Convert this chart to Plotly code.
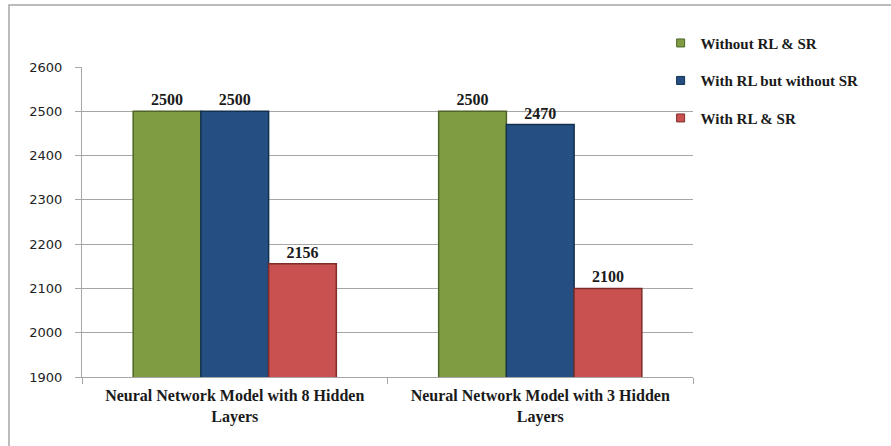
import plotly.graph_objects as go

categories = ["Neural Network Model with 8 Hidden<br>Layers",
              "Neural Network Model with 3 Hidden<br>Layers"]
series_names = ["Without RL & SR", "With RL but without SR", "With RL & SR"]
without_rl_sr = [2500, 2500]
with_rl_no_sr = [2500, 2470]
with_rl_sr = [2156, 2100]
y_ticks = [1900, 2000, 2100, 2200, 2300, 2400, 2500, 2600]

colors = ["#7F9C43", "#254F82", "#C9514F"]
edges = ["#4F6429", "#14304F", "#7D2E2C"]

SERIF = "Liberation Serif, Times New Roman, serif"

fig = go.Figure()
for i, (name, vals) in enumerate(zip(series_names, [without_rl_sr, with_rl_no_sr, with_rl_sr])):
    fig.add_trace(go.Bar(
        x=categories, y=vals, name=name, showlegend=False,
        marker=dict(color=colors[i], line=dict(color=edges[i], width=1.5)),
        text=[f"<b>{v}</b>" for v in vals], textposition="outside",
        textfont=dict(family=SERIF, size=16, color="#1a1a1a"), cliponaxis=False,
    ))
# legend entries (small square swatches)
for i, name in enumerate(series_names):
    fig.add_trace(go.Scatter(
        x=[None], y=[None], mode="markers", name=f"<b>{name}</b>",
        marker=dict(symbol="square", size=8, color=colors[i], line=dict(color=edges[i], width=1)),
        legendgroup=str(i), showlegend=True,
    ))

fig.update_layout(
    width=891, height=446,
    margin=dict(l=82, r=198, t=67, b=69),
    paper_bgcolor="white", plot_bgcolor="white",
    barmode="group", bargap=0.335, bargroupgap=0,
    showlegend=True,
    legend=dict(x=0.947, y=1.13, xanchor="left", yanchor="top",
                font=dict(family=SERIF, size=15, color="#1a1a1a"),
                tracegroupgap=15, itemwidth=30, bgcolor="rgba(0,0,0,0)"),
    yaxis=dict(range=[1900, 2600], tickvals=y_ticks, showgrid=True, gridcolor="#A6A6A6",
               gridwidth=1, showline=True, linecolor="#A6A6A6", ticks="outside",
               ticklen=6, tickcolor="#A6A6A6", ticklabelstandoff=10, zeroline=False,
               tickfont=dict(family="DejaVu Sans, sans-serif", size=13, color="#222")),
    xaxis=dict(showline=True, linecolor="#A6A6A6", ticks="outside", tickson="boundaries",
               ticklen=6, tickcolor="#A6A6A6", ticklabelstandoff=4,
               tickfont=dict(family=SERIF, size=16, color="#1a1a1a")),
)
fig.update_xaxes(tickprefix="<b>", ticksuffix="</b>")

fig.add_shape(type="rect", xref="paper", yref="paper",
              x0=(9 - 82) / 611, x1=1.4, y0=-0.3, y1=(377 - 5) / 310,
              line=dict(color="#A6A6A6", width=1.5), fillcolor="rgba(0,0,0,0)", layer="below")

fig.write_html("out.html")
